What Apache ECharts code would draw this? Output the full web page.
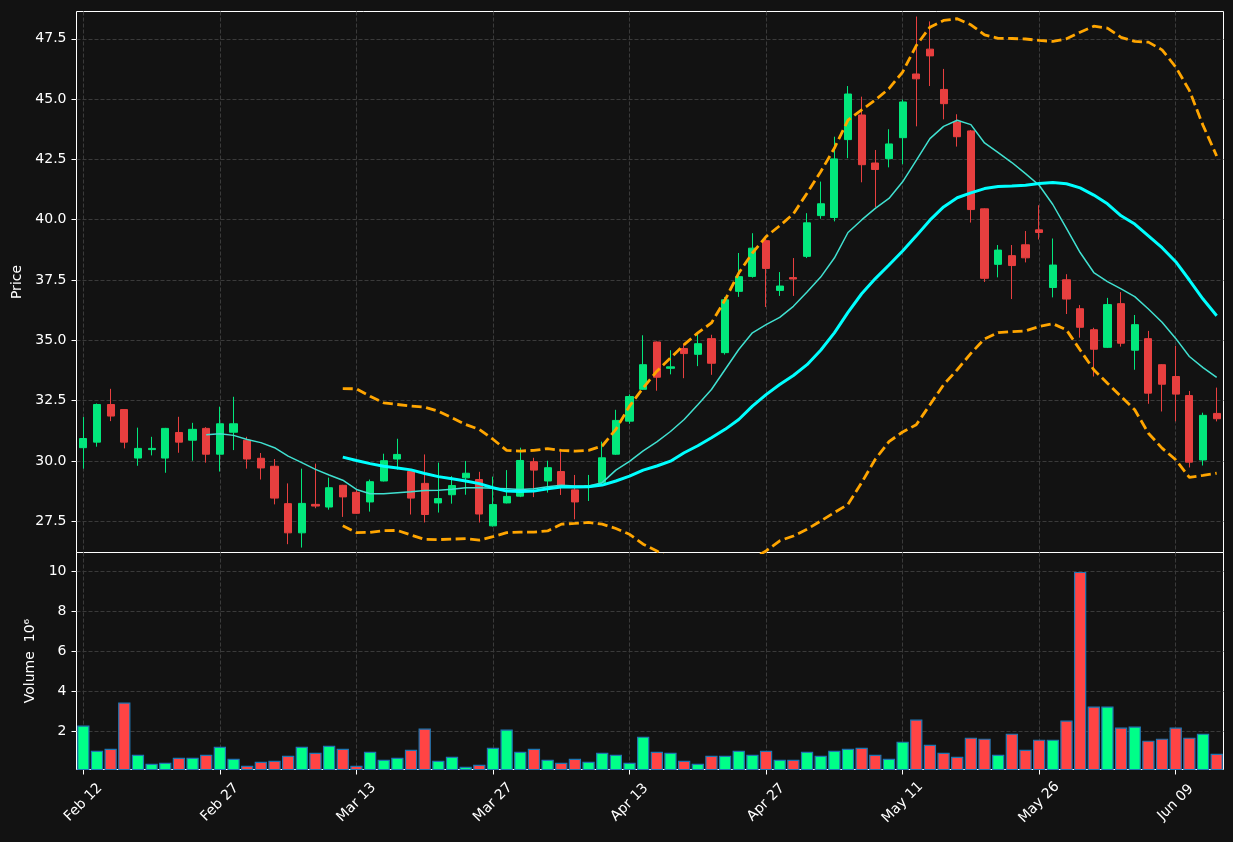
<!DOCTYPE html>
<html>
<head>
<meta charset="utf-8">
<title>Price / Volume</title>
<script src="https://cdn.jsdelivr.net/npm/echarts@6.0.0/dist/echarts.min.js"></script>
<style>
  html, body { margin: 0; padding: 0; background: #121212; }
  #chart { width: 1233px; height: 842px; }
</style>
</head>
<body>
<div id="chart"></div>
<script>
// trading days (2015)
const dates = [
  'Feb 12', 'Feb 13', 'Feb 17', 'Feb 18', 'Feb 19', 'Feb 20', 'Feb 23', 'Feb 24', 'Feb 25', 'Feb 26',
  'Feb 27', 'Mar 02', 'Mar 03', 'Mar 04', 'Mar 05', 'Mar 06', 'Mar 09', 'Mar 10', 'Mar 11', 'Mar 12',
  'Mar 13', 'Mar 16', 'Mar 17', 'Mar 18', 'Mar 19', 'Mar 20', 'Mar 23', 'Mar 24', 'Mar 25', 'Mar 26',
  'Mar 27', 'Mar 30', 'Mar 31', 'Apr 01', 'Apr 02', 'Apr 06', 'Apr 07', 'Apr 08', 'Apr 09', 'Apr 10',
  'Apr 13', 'Apr 14', 'Apr 15', 'Apr 16', 'Apr 17', 'Apr 20', 'Apr 21', 'Apr 22', 'Apr 23', 'Apr 24',
  'Apr 27', 'Apr 28', 'Apr 29', 'Apr 30', 'May 01', 'May 04', 'May 05', 'May 06', 'May 07', 'May 08',
  'May 11', 'May 12', 'May 13', 'May 14', 'May 15', 'May 18', 'May 19', 'May 20', 'May 21', 'May 22',
  'May 26', 'May 27', 'May 28', 'May 29', 'Jun 01', 'Jun 02', 'Jun 03', 'Jun 04', 'Jun 05', 'Jun 08',
  'Jun 09', 'Jun 10', 'Jun 11', 'Jun 12'
];

const open = [
  30.55, 30.78, 32.34, 32.13, 30.12, 30.47, 30.12, 31.18, 30.86, 31.35,
  30.28, 31.19, 30.86, 30.11, 29.78, 28.23, 27.02, 28.20, 28.09, 28.99,
  28.70, 28.30, 29.17, 30.08, 29.56, 29.07, 28.26, 28.60, 29.30, 29.23,
  27.31, 28.26, 28.54, 29.97, 29.17, 29.56, 28.80, 28.93, 29.10, 30.28,
  31.65, 32.97, 34.93, 33.84, 34.66, 34.42, 35.07, 34.49, 37.03, 37.65,
  39.13, 37.07, 37.60, 38.48, 40.17, 40.09, 43.32, 44.34, 42.35, 42.53,
  43.40, 46.04, 47.07, 45.40, 44.05, 43.68, 40.45, 38.15, 38.51, 38.96,
  39.58, 37.19, 37.51, 36.31, 35.44, 34.71, 36.52, 34.59, 35.07, 33.99,
  33.50, 32.71, 30.04, 31.97
];
const close = [
  30.93, 32.34, 31.86, 30.78, 30.52, 30.52, 31.35, 30.78, 31.31, 30.28,
  31.54, 31.54, 30.08, 29.71, 28.46, 27.02, 28.24, 28.13, 28.89, 28.51,
  27.83, 29.14, 30.01, 30.27, 28.46, 27.78, 28.44, 28.98, 29.49, 27.80,
  28.19, 28.53, 30.02, 29.62, 29.72, 28.96, 28.30, 28.98, 30.13, 31.68,
  32.67, 33.99, 33.47, 33.90, 34.45, 34.86, 34.05, 36.68, 37.64, 38.82,
  37.98, 37.25, 37.54, 39.87, 40.66, 42.52, 45.21, 42.28, 42.08, 43.14,
  44.88, 45.84, 46.79, 44.81, 43.44, 40.42, 37.57, 38.74, 38.10, 38.42,
  39.47, 38.12, 36.71, 35.54, 34.63, 36.48, 34.88, 35.65, 32.81, 33.18,
  32.77, 29.95, 31.89, 31.75
];
const low = [
  29.68, 30.59, 31.65, 30.52, 29.80, 30.23, 29.51, 30.34, 30.01, 29.93,
  29.56, 30.45, 29.68, 29.23, 28.20, 26.55, 26.41, 28.04, 27.98, 27.68,
  27.81, 27.90, 29.15, 29.64, 27.78, 27.45, 27.86, 28.23, 28.60, 27.45,
  27.28, 28.24, 28.50, 28.50, 28.69, 28.59, 27.58, 28.34, 29.05, 30.25,
  31.54, 32.95, 32.91, 33.59, 33.43, 33.93, 33.57, 34.41, 36.80, 37.60,
  36.38, 36.84, 36.84, 38.41, 40.04, 39.93, 42.55, 41.55, 40.52, 42.17,
  42.30, 43.87, 45.54, 44.16, 43.03, 39.88, 37.42, 37.61, 36.71, 38.23,
  39.18, 36.78, 36.09, 35.11, 33.50, 34.68, 34.74, 33.78, 32.37, 32.05,
  31.64, 29.73, 29.81, 31.64
];
const high = [
  31.82, 32.38, 32.99, 32.15, 31.38, 31.00, 31.37, 31.83, 31.58, 31.40,
  32.25, 32.66, 31.00, 30.33, 30.08, 29.07, 29.68, 29.89, 29.31, 29.01,
  28.82, 29.23, 30.30, 30.92, 29.60, 30.27, 29.93, 29.37, 30.00, 29.55,
  29.35, 29.62, 30.55, 30.13, 30.01, 30.48, 29.42, 29.42, 30.80, 32.12,
  32.76, 35.21, 34.95, 34.59, 34.85, 35.25, 35.23, 36.80, 38.62, 39.44,
  39.31, 37.83, 38.41, 40.27, 41.58, 43.44, 45.54, 45.10, 42.89, 43.75,
  44.98, 48.42, 48.22, 46.25, 44.37, 43.72, 40.47, 38.95, 38.95, 39.53,
  40.60, 39.22, 37.74, 36.46, 35.52, 36.76, 37.00, 36.05, 35.39, 34.01,
  34.77, 32.90, 32.00, 33.04
];

// volume in millions
const volume = [
  2.30, 1.05, 1.15, 3.45, 0.85, 0.40, 0.45, 0.70, 0.70, 0.85,
  1.25, 0.65, 0.30, 0.50, 0.55, 0.80, 1.25, 0.95, 1.30, 1.15,
  0.30, 1.00, 0.60, 0.70, 1.10, 2.15, 0.55, 0.75, 0.25, 0.35,
  1.20, 2.10, 1.00, 1.15, 0.60, 0.45, 0.65, 0.50, 0.95, 0.85,
  0.45, 1.75, 1.00, 0.95, 0.55, 0.40, 0.80, 0.80, 1.05, 0.85,
  1.05, 0.60, 0.60, 1.00, 0.80, 1.05, 1.15, 1.20, 0.85, 0.65,
  1.50, 2.60, 1.35, 0.95, 0.75, 1.70, 1.65, 0.85, 1.90, 1.10,
  1.60, 1.60, 2.55, 9.95, 3.25, 3.25, 2.20, 2.25, 1.55, 1.65,
  2.20, 1.70, 1.90, 0.90
];

// overlay lines (null where the line is not drawn)
const ma10 = [
  null, null, null, null, null, null, null, null, null, 31.09,
  31.13, 31.06, 30.89, 30.76, 30.55, 30.20, 29.93, 29.65, 29.42, 29.20,
  28.82, 28.64, 28.64, 28.68, 28.72, 28.77, 28.79, 28.83, 28.89, 28.89,
  28.87, 28.85, 28.82, 28.85, 28.93, 28.99, 28.96, 28.96, 29.10, 29.62,
  29.98, 30.42, 30.79, 31.22, 31.72, 32.33, 32.96, 33.79, 34.62, 35.31,
  35.65, 35.95, 36.41, 37.00, 37.62, 38.41, 39.47, 39.99, 40.47, 40.88,
  41.57, 42.46, 43.36, 43.87, 44.12, 43.94, 43.18, 42.78, 42.37, 41.91,
  41.43, 40.63, 39.64, 38.64, 37.81, 37.43, 37.13, 36.81, 36.30, 35.75,
  35.08, 34.33, 33.87, 33.46
];
const ma20 = [
  null, null, null, null, null, null, null, null, null, null,
  null, null, null, null, null, null, null, null, null, 30.16,
  30.02, 29.89, 29.78, 29.71, 29.63, 29.48, 29.35, 29.26, 29.17, 29.06,
  28.89, 28.75, 28.73, 28.75, 28.85, 28.92, 28.92, 28.93, 29.00, 29.17,
  29.37, 29.62, 29.79, 29.99, 30.34, 30.63, 30.96, 31.31, 31.72, 32.27,
  32.75, 33.17, 33.54, 33.99, 34.59, 35.31, 36.16, 36.93, 37.56, 38.12,
  38.70, 39.33, 39.98, 40.53, 40.91, 41.11, 41.29, 41.38, 41.40, 41.43,
  41.50, 41.54, 41.49, 41.32, 41.02, 40.66, 40.16, 39.82, 39.33, 38.84,
  38.26, 37.50, 36.71, 36.02
];
const bbUpper = [
  null, null, null, null, null, null, null, null, null, null,
  null, null, null, null, null, null, null, null, null, 33.00,
  32.99, 32.68, 32.41, 32.34, 32.27, 32.23, 32.06, 31.79, 31.51, 31.31,
  30.90, 30.44, 30.41, 30.44, 30.51, 30.44, 30.41, 30.44, 30.62, 31.31,
  32.27, 33.03, 33.72, 34.27, 34.82, 35.31, 35.72, 36.68, 37.79, 38.62,
  39.30, 39.75, 40.24, 41.10, 41.99, 42.96, 44.13, 44.55, 44.96, 45.43,
  46.12, 47.22, 47.98, 48.26, 48.33, 48.08, 47.66, 47.52, 47.51, 47.49,
  47.43, 47.39, 47.50, 47.77, 48.02, 47.94, 47.56, 47.39, 47.36, 47.04,
  46.33, 45.36, 43.91, 42.64
];
const bbLower = [
  null, null, null, null, null, null, null, null, null, null,
  null, null, null, null, null, null, null, null, null, 27.31,
  27.03, 27.04, 27.11, 27.12, 26.93, 26.75, 26.74, 26.76, 26.78, 26.72,
  26.86, 27.03, 27.05, 27.05, 27.10, 27.38, 27.41, 27.45, 27.38, 27.20,
  26.96, 26.55, 26.27, 25.90, 25.75, 25.70, 25.75, 25.80, 25.80, 25.95,
  26.27, 26.69, 26.89, 27.17, 27.51, 27.86, 28.20, 29.10, 30.07, 30.80,
  31.20, 31.50, 32.33, 33.16, 33.78, 34.46, 35.06, 35.32, 35.36, 35.39,
  35.57, 35.69, 35.43, 34.60, 33.78, 33.22, 32.67, 32.12, 31.15, 30.53,
  30.05, 29.32, 29.40, 29.49
];

const priceTicks = [27.5, 30, 32.5, 35, 37.5, 40, 42.5, 45, 47.5];
const volumeTicks = [2, 4, 6, 8, 10];

const UP = '#02e77c';
const DOWN = '#e73f3f';
const FONT = 'DejaVu Sans';
const gridLine = { show: true, lineStyle: { color: '#3a3a3a', width: 1, type: [4, 2] } };

const chart = echarts.init(document.getElementById('chart'), null, { renderer: 'canvas' });

const candles = dates.map((d, i) => [open[i], close[i], low[i], high[i]]);
const volBars = dates.map((d, i) => ({
  value: volume[i],
  itemStyle: { color: close[i] >= open[i] ? '#00ff88' : '#ff4444' }
}));

function lineSeries(data, color, width, type) {
  return {
    type: 'line',
    xAxisIndex: 0,
    yAxisIndex: 0,
    data: data,
    symbol: 'none',
    clip: true,
    lineStyle: { color: color, width: width, type: type || 'solid' },
    silent: true
  };
}

// half-pixel edges so the white frame stays crisp
const option = {
  backgroundColor: '#121212',
  animation: false,
  grid: [
    { left: 76.5, top: 11.5, width: 1147, height: 541, show: true, borderColor: '#ffffff', borderWidth: 1 },
    { left: 76.5, top: 552.5, width: 1147, height: 217, show: true, borderColor: '#ffffff', borderWidth: 1 }
  ],
  xAxis: [
    {
      type: 'category', gridIndex: 0, data: dates, boundaryGap: true,
      axisLine: { show: false }, axisTick: { show: false }, axisLabel: { show: false },
      splitLine: Object.assign({ interval: 9, alignWithLabel: true }, gridLine)
    },
    {
      type: 'category', gridIndex: 1, data: dates, boundaryGap: true,
      axisLine: { show: false },
      axisTick: { show: true, interval: 9, alignWithLabel: true, length: 5, lineStyle: { color: '#ffffff' } },
      axisLabel: {
        interval: 9, rotate: 45, align: 'center', verticalAlign: 'middle', margin: 33,
        color: '#ffffff', fontSize: 14, fontFamily: FONT
      },
      splitLine: Object.assign({ interval: 9, alignWithLabel: true }, gridLine)
    }
  ],
  yAxis: [
    {
      type: 'value', gridIndex: 0, min: 26.205, max: 48.63,
      name: 'Price', nameLocation: 'middle', nameRotate: 90, nameGap: 51,
      nameTextStyle: { color: '#ffffff', fontSize: 14, fontFamily: FONT },
      axisLine: { show: false },
      axisTick: { show: true, customValues: priceTicks, length: 5, lineStyle: { color: '#ffffff' } },
      axisLabel: {
        customValues: priceTicks, margin: 10, color: '#ffffff', fontSize: 14, fontFamily: FONT,
        formatter: v => v.toFixed(1)
      },
      splitLine: gridLine
    },
    {
      type: 'value', gridIndex: 1, min: 0.115, max: 10.915,
      name: 'Volume  10\u2076', nameLocation: 'middle', nameRotate: 90, nameGap: 38,
      nameTextStyle: { color: '#ffffff', fontSize: 14, fontFamily: FONT },
      axisLine: { show: false },
      axisTick: { show: true, customValues: volumeTicks, length: 5, lineStyle: { color: '#ffffff' } },
      axisLabel: {
        customValues: volumeTicks, margin: 10, color: '#ffffff', fontSize: 14, fontFamily: FONT
      },
      splitLine: gridLine
    }
  ],
  series: [
    {
      type: 'candlestick',
      xAxisIndex: 0,
      yAxisIndex: 0,
      data: candles,
      barWidth: '56%',
      itemStyle: { color: UP, color0: DOWN, borderColor: UP, borderColor0: DOWN, borderWidth: 1 },
      silent: true
    },
    lineSeries(bbUpper, '#ffa500', 2.8, [10, 4.5]),
    lineSeries(bbLower, '#ffa500', 2.8, [10, 4.5]),
    lineSeries(ma10, '#40e0d0', 1.5),
    lineSeries(ma20, '#00ffff', 3),
    {
      type: 'bar',
      xAxisIndex: 1,
      yAxisIndex: 1,
      data: volBars,
      barWidth: '90%',
      clip: true,
      itemStyle: { borderColor: '#1f77b4', borderWidth: 1.2 },
      silent: true
    }
  ]
};

chart.setOption(option);
</script>
</body>
</html>
